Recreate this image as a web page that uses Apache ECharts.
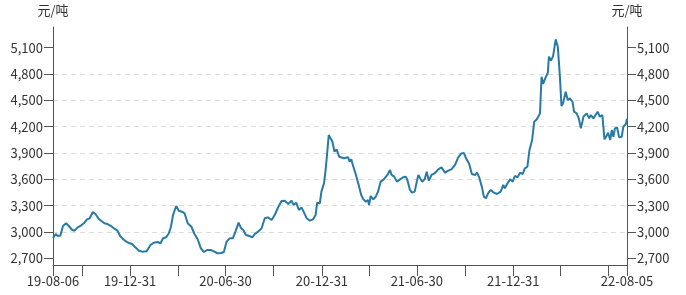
<!DOCTYPE html>
<html>
<head>
<meta charset="utf-8">
<script src="https://cdn.jsdelivr.net/npm/echarts@6/dist/echarts.min.js"></script>
<style>html,body{margin:0;padding:0;background:#fff}#c{width:686px;height:295px}</style>
</head>
<body>
<div id="c"></div>
<script>
const dates = [
'2019-08-06','2019-08-11','2019-08-15','2019-08-20','2019-08-25','2019-08-31','2019-09-05','2019-09-12','2019-09-16','2019-09-22',
'2019-09-29','2019-10-05','2019-10-10','2019-10-15','2019-10-21','2019-10-26','2019-11-01','2019-11-07','2019-11-12','2019-11-18',
'2019-11-25','2019-12-01','2019-12-07','2019-12-12','2019-12-17','2019-12-24','2019-12-30','2020-01-04','2020-01-10','2020-01-17',
'2020-01-23','2020-01-31','2020-02-03','2020-02-08','2020-02-14','2020-02-22','2020-02-27','2020-03-03','2020-03-09','2020-03-14',
'2020-03-18','2020-03-22','2020-03-28','2020-04-02','2020-04-08','2020-04-13','2020-04-19','2020-04-26','2020-05-02','2020-05-08',
'2020-05-14','2020-05-20','2020-05-26','2020-06-02','2020-06-08','2020-06-15','2020-06-22','2020-06-27','2020-07-02','2020-07-08',
'2020-07-14','2020-07-19','2020-07-25','2020-07-30','2020-08-03','2020-08-08','2020-08-14','2020-08-20','2020-08-25','2020-08-31',
'2020-09-07','2020-09-13','2020-09-19','2020-09-26','2020-10-02','2020-10-09','2020-10-15','2020-10-21','2020-10-28','2020-11-03',
'2020-11-07','2020-11-12','2020-11-17','2020-11-22','2020-11-26','2020-12-02','2020-12-08','2020-12-14','2020-12-19','2020-12-22',
'2020-12-27','2020-12-30','2021-01-04','2021-01-07','2021-01-10','2021-01-13','2021-01-16','2021-01-20','2021-01-24','2021-01-28',
'2021-02-02','2021-02-11','2021-02-19','2021-02-22','2021-02-25','2021-02-28','2021-03-05','2021-03-08','2021-03-12','2021-03-16',
'2021-03-20','2021-03-25','2021-03-29','2021-03-31','2021-04-03','2021-04-08','2021-04-12','2021-04-17','2021-04-22','2021-04-27',
'2021-04-30','2021-05-05','2021-05-10','2021-05-13','2021-05-18','2021-05-23','2021-05-29','2021-06-04','2021-06-09','2021-06-12',
'2021-06-17','2021-06-21','2021-06-26','2021-06-30','2021-07-03','2021-07-06','2021-07-10','2021-07-15','2021-07-19','2021-07-23',
'2021-07-28','2021-08-03','2021-08-10','2021-08-16','2021-08-23','2021-08-29','2021-09-04','2021-09-11','2021-09-17','2021-09-23',
'2021-09-28','2021-10-03','2021-10-08','2021-10-13','2021-10-19','2021-10-23','2021-10-27','2021-11-01','2021-11-05','2021-11-09',
'2021-11-13','2021-11-18','2021-11-24','2021-11-30','2021-12-07','2021-12-12','2021-12-15','2021-12-20','2021-12-25','2021-12-30',
'2022-01-03','2022-01-08','2022-01-13','2022-01-18','2022-01-22','2022-01-27','2022-01-31','2022-02-05','2022-02-09','2022-02-14',
'2022-02-17','2022-02-20','2022-02-23','2022-02-26','2022-03-02','2022-03-07','2022-03-09','2022-03-13','2022-03-17','2022-03-22',
'2022-03-26','2022-03-30','2022-04-02','2022-04-05','2022-04-10','2022-04-14','2022-04-18','2022-04-23','2022-04-26','2022-05-01',
'2022-05-05','2022-05-09','2022-05-14','2022-05-20','2022-05-25','2022-05-28','2022-06-02','2022-06-06','2022-06-10','2022-06-14',
'2022-06-19','2022-06-23','2022-06-27','2022-06-30','2022-07-04','2022-07-07','2022-07-10','2022-07-13','2022-07-17','2022-07-21',
'2022-07-26','2022-07-29','2022-08-03','2022-08-05'
];
const prices = [
2930,2977,2955,2960,3068,3099,3068,3023,3015,3053,
3076,3106,3144,3156,3228,3205,3152,3122,3099,3091,
3068,3038,3015,2955,2924,2890,2871,2863,2825,2787,
2776,2780,2803,2852,2878,2886,2871,2928,2940,2985,
3060,3194,3296,3243,3231,3213,3099,3060,2977,2917,
2814,2772,2795,2795,2780,2757,2761,2772,2890,2928,
2928,3004,3106,3042,3023,2966,2955,2940,2977,3004,
3042,3156,3167,3137,3194,3289,3353,3357,3319,3357,
3308,3334,3251,3281,3232,3156,3129,3144,3194,3334,
3327,3460,3555,3706,3896,4105,4110,4029,3915,3942,
3858,3840,3851,3802,3828,3764,3669,3650,3517,3422,
3372,3346,3365,3308,3410,3372,3395,3460,3574,3593,
3574,3650,3706,3650,3631,3574,3600,3623,3631,3593,
3479,3448,3460,3574,3650,3650,3574,3600,3687,3585,
3650,3669,3714,3737,3676,3699,3714,3764,3851,3896,
3900,3828,3775,3661,3650,3676,3623,3517,3403,3384,
3441,3479,3448,3433,3460,3536,3498,3555,3600,3574,
3638,3623,3676,3661,3726,3744,3935,4049,4257,4284,
4268,4352,4770,4687,4751,4815,4998,4952,5005,5195,
5112,4770,4435,4466,4599,4504,4523,4485,4371,4352,
4295,4181,4314,4352,4295,4333,4295,4333,4371,4314,
4333,4056,4094,4132,4049,4162,4086,4181,4192,4079,
4086,4200,4231,4290
];
const tickDates = ['2019-08-06','2019-09-30','2019-12-31','2020-03-31','2020-06-30','2020-09-30','2020-12-31',
  '2021-03-31','2021-06-30','2021-09-30','2021-12-31','2022-03-31','2022-06-30','2022-08-05'];
const labelDates = ['2019-08-06','2019-12-31','2020-06-30','2020-12-31','2021-06-30','2021-12-31','2022-08-05'];
const yTicks = [2700,3000,3300,3600,3900,4200,4500,4800,5100];
const unitName = '元/吨';

function ts(s){ const p = s.split('-').map(Number); return Date.UTC(p[0], p[1]-1, p[2]); }
function fmtDate(v){ const d = new Date(v); const p = n => (n<10?'0':'')+n;
  return p(d.getUTCFullYear()%100)+'-'+p(d.getUTCMonth()+1)+'-'+p(d.getUTCDate()); }
function fmtNum(v){ return String(v).replace(/\B(?=(\d{3})+(?!\d))/g, ','); }

const FONT = '"Noto Sans CJK SC", "Noto Sans", sans-serif';
const axisColor = '#555';
function yAxisDef(pos){
  return {
    type:'value', position:pos, min:2624, max:5336, minInterval:300, maxInterval:300,
    name: unitName, nameLocation:'end', nameGap:10,
    nameTextStyle:{color:'#333', fontSize:13, fontFamily:FONT},
    axisLine:{show:true, lineStyle:{color:axisColor}},
    axisTick:{show:true, length:9, customValues:yTicks, lineStyle:{color:axisColor}},
    axisLabel:{customValues:yTicks, margin:10, color:'#333', fontSize:13, fontFamily:FONT, formatter:fmtNum},
    splitLine: pos==='left' ? {show:true, showMinLine:false, showMaxLine:false, lineStyle:{color:'#dcdcdc', type:[5,4]}} : {show:false}
  };
}
const chart = echarts.init(document.getElementById('c'));
chart.setOption({
  animation:false,
  grid:{left:53, right:59, top:27, bottom:30, containLabel:false},
  xAxis:{
    type:'value', min:ts(dates[0]), max:ts(dates[dates.length-1]),
    axisLine:{lineStyle:{color:axisColor}},
    axisTick:{show:true, length:11, customValues:tickDates.map(ts), lineStyle:{color:axisColor}},
    axisLabel:{customValues:labelDates.map(ts), margin:10, color:'#333', fontSize:13, fontFamily:FONT, formatter:fmtDate, hideOverlap:false},
    splitLine:{show:false}
  },
  yAxis:[yAxisDef('left'), yAxisDef('right')],
  series:[{
    type:'line', yAxisIndex:0, showSymbol:false, symbol:'none',
    lineStyle:{color:'#287aa4', width:2}, itemStyle:{color:'#287aa4'},
    data: dates.map((d,i)=>[ts(d), prices[i]])
  }]
});
</script>
</body>
</html>
